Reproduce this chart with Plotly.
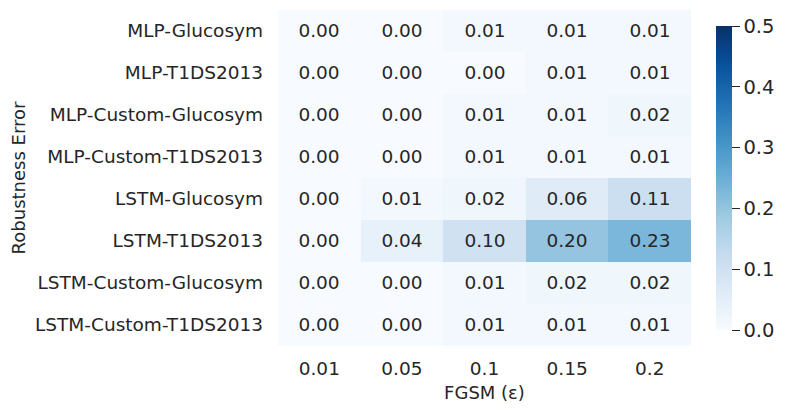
import plotly.graph_objects as go

models = ["MLP-Glucosym", "MLP-T1DS2013", "MLP-Custom-Glucosym", "MLP-Custom-T1DS2013",
          "LSTM-Glucosym", "LSTM-T1DS2013", "LSTM-Custom-Glucosym", "LSTM-Custom-T1DS2013"]
eps = ["0.01", "0.05", "0.1", "0.15", "0.2"]

mlp_glucosym = [0.00, 0.00, 0.01, 0.01, 0.01]
mlp_t1ds = [0.00, 0.00, 0.00, 0.01, 0.01]
mlp_custom_glucosym = [0.00, 0.00, 0.01, 0.01, 0.02]
mlp_custom_t1ds = [0.00, 0.00, 0.01, 0.01, 0.01]
lstm_glucosym = [0.00, 0.01, 0.02, 0.06, 0.11]
lstm_t1ds = [0.00, 0.04, 0.10, 0.20, 0.23]
lstm_custom_glucosym = [0.00, 0.00, 0.01, 0.02, 0.02]
lstm_custom_t1ds = [0.00, 0.00, 0.01, 0.01, 0.01]

z = [mlp_glucosym, mlp_t1ds, mlp_custom_glucosym, mlp_custom_t1ds,
     lstm_glucosym, lstm_t1ds, lstm_custom_glucosym, lstm_custom_t1ds]

txt = "#262626"

fig = go.Figure(go.Heatmap(
    z=z, x=eps, y=models,
    colorscale="Blues", zmin=0, zmax=0.5,
    texttemplate="%{z:.2f}",
    textfont=dict(family="DejaVu Sans", size=18.5, color=txt),
    colorbar=dict(
        thickness=16, len=0.905, x=1.06, xanchor="left", xpad=0,
        y=0.5, yanchor="middle", ypad=0, outlinewidth=0,
        tickvals=[0, 0.1, 0.2, 0.3, 0.4, 0.5], tickformat=".1f",
        ticks="outside", ticklen=8, tickcolor=txt,
        tickfont=dict(family="DejaVu Sans", size=19.5, color=txt),
    ),
))

fig.update_xaxes(
    type="category", showgrid=False, zeroline=False, ticks="",
    automargin=False, ticklabelstandoff=9,
    tickfont=dict(size=18.5, color=txt),
    title=dict(text="FGSM (ε)", font=dict(size=18, color=txt), standoff=8),
)
fig.update_yaxes(
    type="category", autorange="reversed", showgrid=False, zeroline=False, ticks="",
    automargin=False, ticklabelstandoff=14,
    tickfont=dict(size=18.5, color=txt),
    title=dict(text="Robustness Error", font=dict(size=18, color=txt), standoff=10),
)

# the page body adds an 8px margin, so the figure is shifted up/left by that
fig.update_layout(
    width=782, height=406,
    margin=dict(l=270, r=99, t=2, b=68, autoexpand=False),
    font=dict(family="DejaVu Sans", color=txt),
    paper_bgcolor="white", plot_bgcolor="white",
)

fig.write_html("out.html")
